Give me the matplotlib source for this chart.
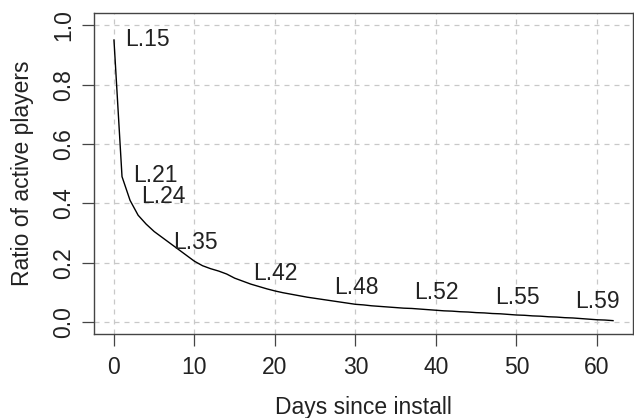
#!/usr/bin/env python3
"""Retention curve: ratio of active players by days since install."""

import matplotlib

matplotlib.use("Agg")
import matplotlib.pyplot as plt
import numpy as np

days = list(range(0, 63))
ratio = [
    0.95, 0.49, 0.41, 0.36, 0.33, 0.305, 0.285, 0.265, 0.245, 0.225,
    0.205, 0.19, 0.18, 0.172, 0.162, 0.148, 0.138, 0.128, 0.12, 0.112,
    0.105, 0.099, 0.094, 0.089, 0.084, 0.08, 0.076, 0.072, 0.068, 0.064,
    0.06, 0.058, 0.055, 0.053, 0.051, 0.049, 0.047, 0.046, 0.044, 0.042,
    0.04, 0.038, 0.037, 0.035, 0.034, 0.032, 0.031, 0.029, 0.028, 0.026,
    0.024, 0.023, 0.021, 0.02, 0.018, 0.017, 0.015, 0.014, 0.012, 0.01,
    0.008, 0.007, 0.005,
]

level_names = ["L.15", "L.21", "L.24", "L.35", "L.42", "L.48", "L.52", "L.55", "L.59"]
level_x = [1, 2, 3, 7, 17, 27, 37, 47, 57]
level_y = [0.953, 0.493, 0.422, 0.269, 0.163, 0.118, 0.100, 0.084, 0.070]

x_ticks = [0, 10, 20, 30, 40, 50, 60]
y_ticks = [0.0, 0.2, 0.4, 0.6, 0.8, 1.0]

plt.rcParams["font.family"] = ["Liberation Sans", "DejaVu Sans"]
FONT = 16.5

fig = plt.figure(figsize=(6.34, 4.18), dpi=100)
ax = fig.add_axes([94 / 634, 84 / 418, (633 - 94) / 634, (334 - 13.3) / 418])

ax.plot(days, ratio, color="black", linewidth=1.0, zorder=3)
for name, x, y in zip(level_names, level_x, level_y):
    ax.annotate(name, xy=(x, y), xytext=(2.0, 0), textcoords="offset points",
                ha="left", va="center", fontsize=FONT, color="#222222", zorder=4)

# R-style 4% padding around the data range
ax.set_xlim(-0.04 * 62, 62 * 1.04)
ax.set_ylim(-0.04, 1.04)
ax.set_xticks(x_ticks, [str(t) for t in x_ticks])
ax.set_yticks(y_ticks, [f"{t:.1f}" for t in y_ticks])
for label in ax.get_yticklabels():
    label.set_rotation(90)
    label.set_va("center")

ax.grid(True, color="#c8c8c8", linestyle=(0, (4, 4)), linewidth=0.9)
ax.set_axisbelow(True)
ax.tick_params(axis="both", labelsize=FONT, length=8.5, width=0.9,
               color="#444444", labelcolor="#222222")
ax.tick_params(axis="x", pad=7.5)
ax.tick_params(axis="y", pad=5.3)
for spine in ax.spines.values():
    spine.set_color("#444444")
    spine.set_linewidth(1.0)

ax.set_xlabel("Days since install", fontsize=FONT, color="#222222", labelpad=12)
ax.set_ylabel("Ratio of active players", fontsize=FONT, color="#222222", labelpad=12.5)

fig.savefig("out.png", dpi=100)
